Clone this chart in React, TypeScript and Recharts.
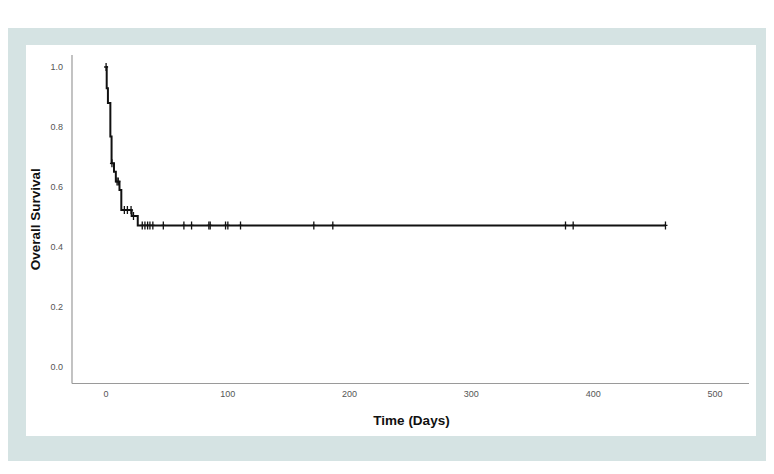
import React from "react";
import { ComposedChart, Line, Scatter, XAxis, YAxis, Label } from "recharts";

// Kaplan-Meier step points (time in days, survival)
const eventTimes = [0, 0.5, 1.5, 3.5, 4.5, 6.5, 8, 11, 12.5, 21, 26, 459.4];
const survivalValues = [1.0, 0.929, 0.88, 0.768, 0.679, 0.651, 0.618, 0.59, 0.523, 0.503, 0.472, 0.472];

// Censored observations
const censorTimes = [0, 4.8, 9, 10, 15, 17.5, 20.5, 22.5, 29.7, 31.9, 34.1, 36, 38.4, 47, 63.9, 70.2, 84.4, 85.5, 98.1, 100, 110.4, 170.6, 186.2, 377.3, 383.6, 459.4];
const censorValues = [1.0, 0.679, 0.618, 0.618, 0.523, 0.523, 0.523, 0.503, 0.472, 0.472, 0.472, 0.472, 0.472, 0.472, 0.472, 0.472, 0.472, 0.472, 0.472, 0.472, 0.472, 0.472, 0.472, 0.472, 0.472, 0.472];

const xTicks = [0, 100, 200, 300, 400, 500];
const yTicks = [0, 0.2, 0.4, 0.6, 0.8, 1.0];

const curveData = eventTimes.map((t, i) => ({ t, s: survivalValues[i] }));
const censorData = censorTimes.map((t, i) => ({ t, s: censorValues[i] }));

const tickFont = "'Liberation Sans Narrow', 'Liberation Sans', Arial, sans-serif";
const labelFont = "'Liberation Sans', Arial, sans-serif";

const CensorMark = (props: any) => {
  const { cx, cy } = props;
  if (cx == null || cy == null) return null;
  return (
    <g>
      <line x1={cx} x2={cx} y1={cy - 4} y2={cy + 4} stroke="#111" strokeWidth={1.3} />
      <line x1={cx - 2} x2={cx + 2} y1={cy} y2={cy} stroke="#111" strokeWidth={1.3} />
    </g>
  );
};

const YLabel = (props: any) => {
  const vb = props.viewBox || {};
  const x = (vb.x || 0) + 9;
  const y = (vb.y || 0) + (vb.height || 0) / 2;
  return (
    <text
      x={x}
      y={y}
      transform={`rotate(-90, ${x}, ${y})`}
      textAnchor="middle"
      dominantBaseline="central"
      fontFamily={labelFont}
      fontWeight="bold"
      fontSize={13.5}
      fill="#111"
    >
      Overall Survival
    </text>
  );
};

const XLabel = (props: any) => {
  const vb = props.viewBox || {};
  const x = (vb.x || 0) + (vb.width || 0) / 2 + 1;
  const y = (vb.y || 0) + 37;
  return (
    <text
      x={x}
      y={y}
      textAnchor="middle"
      dominantBaseline="central"
      fontFamily={labelFont}
      fontWeight="bold"
      fontSize={13.5}
      fill="#111"
    >
      Time (Days)
    </text>
  );
};

export default function App() {
  return (
    <div
      style={{
        marginTop: 20,
        width: 759,
        height: 433,
        background: "#d5e3e3",
        paddingTop: 17,
        paddingLeft: 18,
        boxSizing: "border-box",
      }}
    >
      <div style={{ width: 730, height: 391, background: "#ffffff" }}>
        <ComposedChart
          width={730}
          height={391}
          margin={{ top: 10, right: 7, bottom: 0, left: 0 }}
        >
          <XAxis
            type="number"
            dataKey="t"
            domain={[-28, 528]}
            ticks={xTicks}
            allowDataOverflow
            axisLine={{ stroke: "#9a9a9a", strokeWidth: 1.2 }}
            tickLine={false}
            tickMargin={1}
            height={52.5}
            tick={{ fontSize: 9, fill: "#555", fontFamily: tickFont }}
          >
            <Label content={XLabel} />
          </XAxis>
          <YAxis
            type="number"
            dataKey="s"
            domain={[-0.055, 1.04]}
            ticks={yTicks}
            allowDataOverflow
            width={46}
            axisLine={{ stroke: "#9a9a9a", strokeWidth: 1.2 }}
            tickLine={false}
            tickMargin={3}
            tickFormatter={(v: number) => v.toFixed(1)}
            tick={{ fontSize: 9, fill: "#555", fontFamily: tickFont }}
          >
            <Label content={YLabel} />
          </YAxis>
          <Line
            data={curveData}
            dataKey="s"
            type="stepAfter"
            stroke="#111"
            strokeWidth={2}
            dot={false}
            activeDot={false}
            isAnimationActive={false}
          />
          <Scatter
            data={censorData}
            dataKey="s"
            shape={CensorMark}
            isAnimationActive={false}
          />
        </ComposedChart>
      </div>
    </div>
  );
}
